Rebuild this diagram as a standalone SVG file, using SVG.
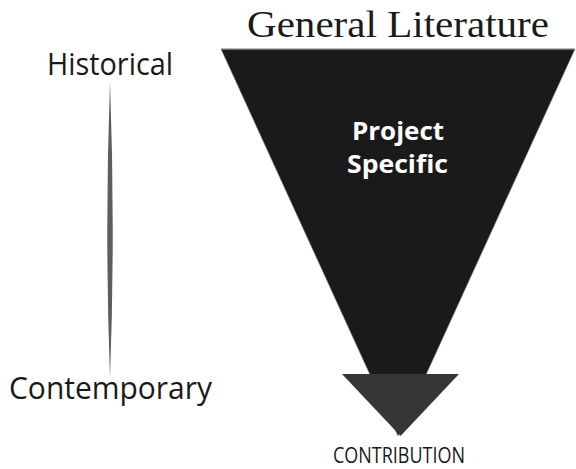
<svg xmlns="http://www.w3.org/2000/svg" width="576" height="469" viewBox="0 0 576 469">
  <style>
    .sans { font-family: "Open Sans", "Liberation Sans", Arial, sans-serif; }
    .label { font-size: 31px; fill: #1a1a1a; }
    .title { font-family: "Liberation Serif", "Times New Roman", serif; font-size: 37px; fill: #1a1a1a; }
    .inner { font-size: 25px; font-weight: bold; fill: #ffffff; }
    .cap { font-size: 22px; fill: #1a1a1a; }
  </style>
  <rect width="576" height="469" fill="#ffffff"/>

  <!-- time axis: tapered spindle between the two labels -->
  <g id="connectors">
    <path d="M110,82 Q115.5,230 110,378 Q104.5,230 110,82 Z" fill="#5e5e5e"/>
  </g>

  <g id="historical">
    <text class="sans label" x="47" y="75" textLength="126" lengthAdjust="spacingAndGlyphs">Historical</text>
  </g>

  <g id="contemporary">
    <text class="sans label" x="9" y="399" textLength="203" lengthAdjust="spacingAndGlyphs">Contemporary</text>
  </g>

  <g id="general-literature">
    <text class="title" x="247" y="37" textLength="302" lengthAdjust="spacingAndGlyphs">General Literature</text>
    <polygon points="221,49 575,49 398,436" fill="#1a1a1a" stroke="#8a8a8a" stroke-width="0.6"/>
    <line x1="221" y1="49" x2="575" y2="49" stroke="#9a9a9a" stroke-width="1.2"/>
  </g>

  <g id="project-specific">
    <text class="sans inner" x="352" y="140" textLength="92" lengthAdjust="spacingAndGlyphs">Project</text>
    <text class="sans inner" x="347" y="173" textLength="101" lengthAdjust="spacingAndGlyphs">Specific</text>
  </g>

  <g id="contribution">
    <polygon points="342,374 459,374 400.5,436" fill="#363636"/>
    <text class="sans cap" x="333" y="463" textLength="132" lengthAdjust="spacingAndGlyphs">CONTRIBUTION</text>
  </g>
</svg>
